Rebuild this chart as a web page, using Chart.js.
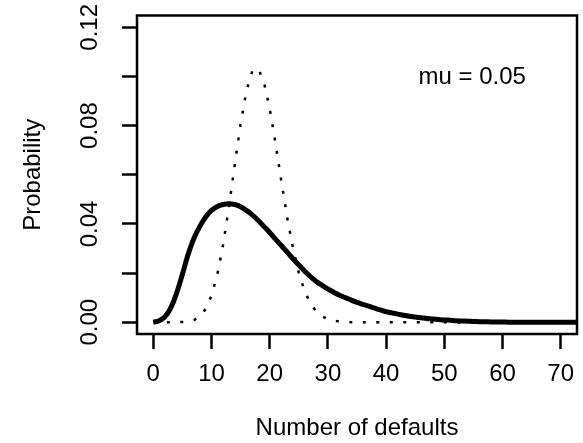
<!DOCTYPE html>
<html>
<head>
<meta charset="utf-8">
<script src="https://cdn.jsdelivr.net/npm/chart.js@4.4.1/dist/chart.umd.min.js"></script>
<style>
  html, body { margin: 0; padding: 0; background: #fff; }
  #wrap { width: 583px; height: 443px; position: relative; }
</style>
</head>
<body>
<div id="wrap"><canvas id="mainChart"></canvas></div>
<script>
// number of defaults (x) and the two probability curves
const defaults = [];
for (let k = 0; k <= 75; k++) defaults.push(k);

const solidProb = [
    0.0000, 0.0006, 0.0022, 0.0058, 0.0118, 0.0195, 0.0277, 0.0343, 0.0390, 0.0428,
    0.0455, 0.0471, 0.0479, 0.0482, 0.0479, 0.0470, 0.0455, 0.0437, 0.0415, 0.0390,
    0.0365, 0.0338, 0.0312, 0.0285, 0.0258, 0.0233, 0.0208, 0.0185, 0.0166, 0.0150,
    0.0135, 0.0122, 0.0110, 0.0100, 0.0090, 0.0081, 0.0073, 0.0065, 0.0057, 0.0050,
    0.0043, 0.0038, 0.0033, 0.0028, 0.0024, 0.0021, 0.0018, 0.0015, 0.0013, 0.0011,
    0.0009, 0.0008, 0.0006, 0.0005, 0.0004, 0.0003, 0.0002, 0.0002, 0.0001, 0.0001,
    0.0001, 0, 0, 0, 0, 0, 0, 0, 0, 0,
    0, 0, 0, 0, 0, 0
];

const dottedProb = [
    0, 0, 0, 0, 0.0000, 0.0001, 0.0003, 0.0009, 0.0024, 0.0054,
    0.0108, 0.0194, 0.0316, 0.0470, 0.0641, 0.0807, 0.0941, 0.1021, 0.1033, 0.0979,
    0.0870, 0.0728, 0.0574, 0.0427, 0.0301, 0.0201, 0.0127, 0.0076, 0.0044, 0.0024,
    0.0012, 0.0006, 0.0003, 0.0001, 0, 0, 0, 0, 0, 0,
    0, 0, 0, 0, 0, 0, 0, 0, 0, 0,
    0, 0, 0, 0, 0, 0, 0, 0, 0, 0,
    0, 0, 0, 0, 0, 0, 0, 0, 0, 0,
    0, 0, 0, 0, 0, 0
];

const xTicks = [0, 10, 20, 30, 40, 50, 60, 70];
const yTicks = [0, 0.02, 0.04, 0.06, 0.08, 0.10, 0.12];
const yLabelled = ['0.00', '0.04', '0.08', '0.12'];

const muLabel = 'mu = 0.05';
const muPos = { x: 54.8, y: 0.0995 };

const FONT = "'Liberation Sans', Arial, Helvetica, sans-serif";

function toPoints(ys) {
    return defaults.map((x, i) => ({ x: x, y: ys[i] }));
}

// box round the plot + the mu text
const boxPlugin = {
    id: 'boxPlugin',
    afterDatasetsDraw(chart) {
        const { ctx, chartArea, scales } = chart;
        ctx.save();
        ctx.strokeStyle = '#000';
        ctx.lineWidth = 2.5;
        ctx.strokeRect(chartArea.left, chartArea.top,
            chartArea.right - chartArea.left, chartArea.bottom - chartArea.top);

        ctx.fillStyle = '#000';
        ctx.font = '24px ' + FONT;
        ctx.textAlign = 'center';
        ctx.textBaseline = 'middle';
        ctx.fillText(muLabel, scales.x.getPixelForValue(muPos.x), scales.y.getPixelForValue(muPos.y));
        ctx.restore();
    }
};

const canvas = document.getElementById('mainChart');

new Chart(canvas, {
    type: 'line',
    data: {
        datasets: [
            {
                label: 'solid',
                data: toPoints(solidProb),
                borderColor: '#000',
                borderWidth: 5,
                pointRadius: 0,
                tension: 0.4,
                fill: false
            },
            {
                label: 'dotted',
                data: toPoints(dottedProb),
                borderColor: '#000',
                borderWidth: 2.5,
                borderDash: [3, 10.5],
                pointRadius: 0,
                tension: 0,
                fill: false
            }
        ]
    },
    options: {
        responsive: true,
        maintainAspectRatio: false,
        animation: false,
        layout: { padding: { left: 0, right: 6, top: 15.5, bottom: 0 } },
        plugins: {
            legend: { display: false },
            tooltip: { enabled: false }
        },
        scales: {
            x: {
                type: 'linear',
                min: -2.8,
                max: 72.8,
                afterBuildTicks: scale => {
                    scale.ticks = xTicks.map(v => ({ value: v }));
                },
                afterFit: scale => {
                    scale.height = 109;
                    scale.paddingLeft = 0;
                    scale.paddingRight = 0;
                },
                border: { display: false },
                grid: {
                    drawOnChartArea: false,
                    drawTicks: true,
                    tickLength: 15,
                    tickWidth: 2.5,
                    tickColor: '#000'
                },
                ticks: {
                    color: '#000',
                    padding: 11,
                    maxRotation: 0,
                    autoSkip: false,
                    font: { family: FONT, size: 24 },
                    callback: v => String(v)
                },
                title: {
                    display: true,
                    text: 'Number of defaults',
                    color: '#000',
                    font: { family: FONT, size: 24 },
                    padding: { top: 0, bottom: 0 }
                }
            },
            y: {
                type: 'linear',
                min: -0.0048,
                max: 0.1248,
                afterBuildTicks: scale => {
                    scale.ticks = yTicks.map(v => ({ value: v }));
                },
                afterFit: scale => {
                    scale.width = 137;
                    scale.paddingTop = 0;
                    scale.paddingBottom = 0;
                },
                border: { display: false },
                grid: {
                    drawOnChartArea: false,
                    drawTicks: true,
                    tickLength: 15,
                    tickWidth: 2.5,
                    tickColor: '#000'
                },
                ticks: {
                    color: '#000',
                    padding: 8.5,
                    minRotation: 90,
                    maxRotation: 90,
                    crossAlign: 'center',
                    autoSkip: false,
                    font: { family: FONT, size: 24 },
                    callback: v => {
                        const s = v.toFixed(2);
                        return yLabelled.includes(s) ? s : '';
                    }
                },
                title: {
                    display: true,
                    text: 'Probability',
                    color: '#000',
                    font: { family: FONT, size: 24 },
                    padding: { top: 19, bottom: 0 }
                }
            }
        }
    },
    plugins: [boxPlugin]
});
</script>
</body>
</html>
